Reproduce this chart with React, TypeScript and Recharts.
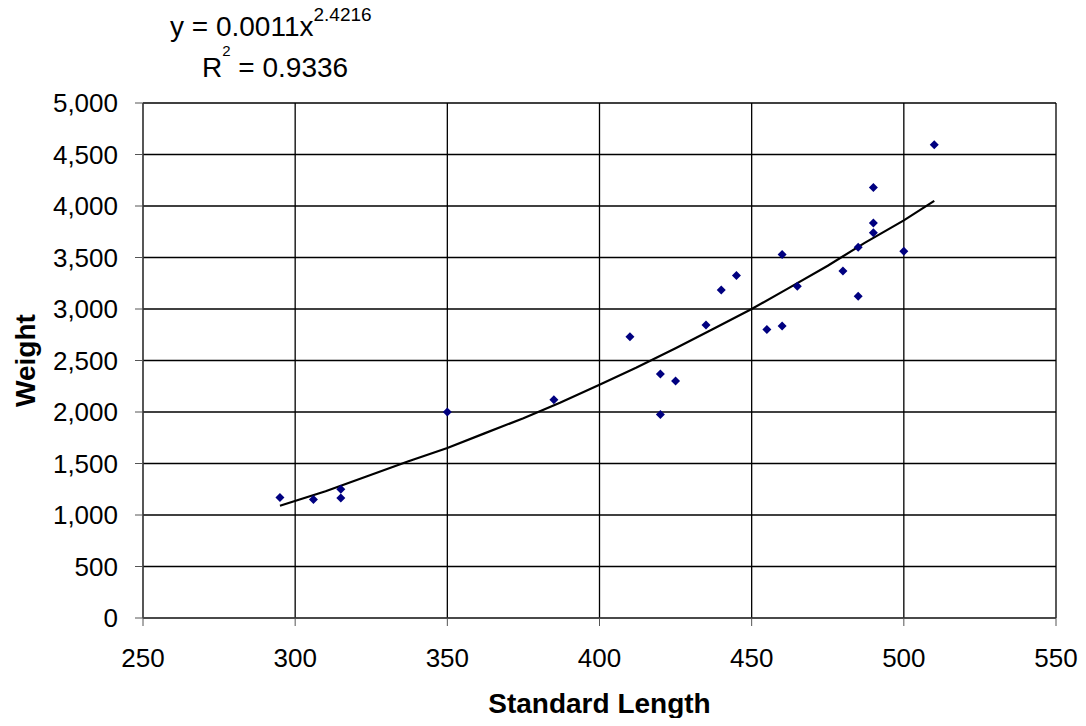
import React from 'react';
import { ScatterChart, Scatter, XAxis, YAxis, CartesianGrid, Label } from 'recharts';

const lengths = [295, 306, 315, 315, 350, 385, 410, 420, 420, 425, 435, 440, 445, 455, 460, 460, 465, 480, 485, 485, 490, 490, 490, 500, 510];
const weights = [1170, 1150, 1250, 1165, 2000, 2120, 2730, 2370, 1975, 2300, 2845, 3185, 3325, 2800, 3530, 2835, 3220, 3370, 3600, 3125, 4180, 3835, 3740, 3560, 4595];

// power trend line
const trendX = [295, 310, 325, 337, 350, 362, 375, 387, 400, 412, 425, 437, 450, 462, 475, 487, 500, 510];
const trendY = [1090, 1230, 1390, 1520, 1650, 1790, 1940, 2090, 2265, 2430, 2620, 2800, 3000, 3200, 3420, 3640, 3860, 4050];

const xTicks = [250, 300, 350, 400, 450, 500, 550];
const yTicks = [0, 500, 1000, 1500, 2000, 2500, 3000, 3500, 4000, 4500, 5000];

const points = lengths.map((x, i) => ({ x, y: weights[i] }));
const trend = trendX.map((x, i) => ({ x, y: trendY[i] }));

const font = '"Liberation Sans", Arial, sans-serif';

const Diamond = (props: any) => {
  const { cx, cy } = props;
  const r = 4.5;
  return <polygon points={`${cx},${cy - r} ${cx + r},${cy} ${cx},${cy + r} ${cx - r},${cy}`} fill="#000080" />;
};

const NoDot = () => <g />;

const App = () => {
  return (
    <div style={{ position: 'relative', width: 1070, height: 710, fontFamily: font }}>
      <div style={{ position: 'absolute', left: 162, top: 3, fontSize: 28, lineHeight: '32px', color: '#000', whiteSpace: 'nowrap' }}>
        y = 0.0011x<span style={{ fontSize: 19, position: 'relative', top: -15 }}>2.4216</span>
      </div>
      <div style={{ position: 'absolute', left: 194, top: 44, fontSize: 28, lineHeight: '32px', color: '#000', whiteSpace: 'nowrap' }}>
        R<span style={{ fontSize: 15, position: 'relative', top: -21 }}>2</span> = 0.9336
      </div>
      <ScatterChart width={1070} height={710} margin={{ top: 95, right: 22, bottom: 5, left: 5 }} style={{ fontFamily: font }}>
        <CartesianGrid stroke="#000" strokeWidth={1.3} />
        <XAxis
          type="number"
          dataKey="x"
          domain={[250, 550]}
          ticks={xTicks}
          interval={0}
          height={95}
          stroke="#555"
          tickSize={8}
          tickMargin={23}
          tick={{ fill: '#000', fontSize: 26 }}
        >
          <Label
            content={(p: any) => {
              const vb = p.viewBox;
              return (
                <text x={vb.x + vb.width / 2} y={vb.y + 95} textAnchor="middle" fontSize={28} fontWeight="bold" fill="#000">
                  Standard Length
                </text>
              );
            }}
          />
        </XAxis>
        <YAxis
          type="number"
          dataKey="y"
          domain={[0, 5000]}
          ticks={yTicks}
          interval={0}
          width={130}
          stroke="#555"
          tickSize={8}
          tickMargin={17}
          tick={{ fill: '#000', fontSize: 26 }}
          tickFormatter={(v: number) => v.toLocaleString('en-US')}
        >
          <Label
            content={(p: any) => {
              const vb = p.viewBox;
              const cx = vb.x + 22;
              const cy = vb.y + vb.height / 2;
              return (
                <text x={cx} y={cy} transform={`rotate(-90 ${cx} ${cy})`} textAnchor="middle" fontSize={28} fontWeight="bold" fill="#000">
                  Weight
                </text>
              );
            }}
          />
        </YAxis>
        <Scatter data={trend} line={{ stroke: '#000', strokeWidth: 2.2 }} shape={NoDot} isAnimationActive={false} />
        <Scatter data={points} shape={Diamond} isAnimationActive={false} />
      </ScatterChart>
    </div>
  );
};

export default App;
